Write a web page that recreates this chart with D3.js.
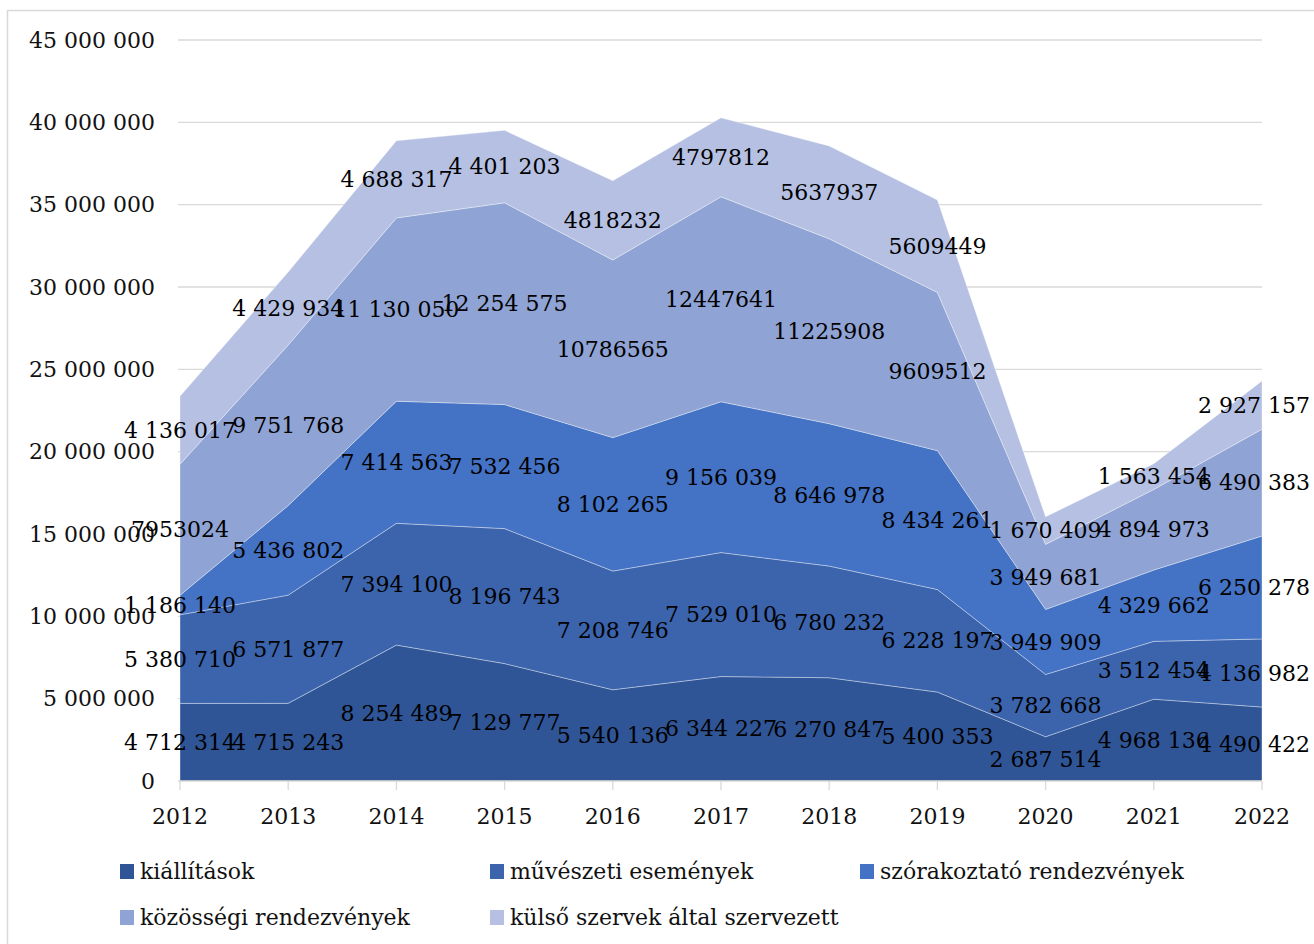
<!DOCTYPE html>
<html><head><meta charset="utf-8">
<script src="https://cdn.jsdelivr.net/npm/d3@7"></script>
<style>
html,body{margin:0;padding:0;background:#fff;}
svg{display:block;font-family:"DejaVu Serif",serif;}
</style></head>
<body>
<svg id="c" width="1314" height="944"></svg>
<script>
const years = [2012,2013,2014,2015,2016,2017,2018,2019,2020,2021,2022];
const seriesNames = ["kiállítások","művészeti események","szórakoztató rendezvények","közösségi rendezvények","külső szervek által szervezett"];
const kiallitasok = [4712314,4715243,8254489,7129777,5540136,6344227,6270847,5400353,2687514,4968136,4490422];
const muveszeti   = [5380710,6571877,7394100,8196743,7208746,7529010,6780232,6228197,3782668,3512454,4136982];
const szorakoztato= [1186140,5436802,7414563,7532456,8102265,9156039,8646978,8434261,3949909,4329662,6250278];
const kozossegi   = [7953024,9751768,11130050,12254575,10786565,12447641,11225908,9609512,3949681,4894973,6490383];
const kulso       = [4136017,4429934,4688317,4401203,4818232,4797812,5637937,5609449,1670409,1563454,2927157];
// which labels are shown without thousand separators in the original (series index -> year indices)
const plainLabels = {3:[0,4,5,6,7], 4:[4,5,6,7]};
const yTicks = [0,5000000,10000000,15000000,20000000,25000000,30000000,35000000,40000000,45000000];
const colors = ["#2f5597","#3b64ad","#4472c4","#8fa3d4","#b5c0e3"];

const allSeries = [kiallitasok,muveszeti,szorakoztato,kozossegi,kulso];
const table = years.map((y,i)=>{const o={year:y}; seriesNames.forEach((n,k)=>o[n]=allSeries[k][i]); return o;});
const stack = d3.stack().keys(seriesNames)(table);

const svg = d3.select("#c");
svg.append("rect").attr("x",7.5).attr("y",10.5).attr("width",1330).attr("height",960)
  .attr("fill","none").attr("stroke","#d9d9d9").attr("stroke-width",1.5);

const x = d3.scalePoint().domain(years).range([180,1262]);
const y = d3.scaleLinear().domain([0,45000000]).range([781,40]);
const fmt = v => d3.format(",")(v).replace(/,/g," ");

// grid
svg.append("g").selectAll("line").data(yTicks.slice(1)).join("line")
  .attr("x1",178).attr("x2",1262).attr("y1",d=>y(d)).attr("y2",d=>y(d))
  .attr("stroke","#d9d9d9").attr("stroke-width",1.3);

// areas
const area = d3.area().x(d=>x(d.data.year)).y0(d=>y(d[0])).y1(d=>y(d[1]));
svg.append("g").selectAll("path").data(stack).join("path")
  .attr("d",area).attr("fill",(d,i)=>colors[i])
  .attr("stroke","rgba(255,255,255,0.35)").attr("stroke-width",1);

// x axis
const xa = svg.append("g").attr("transform","translate(0,781)");
xa.append("line").attr("x1",178).attr("x2",1262).attr("stroke","#d9d9d9").attr("stroke-width",1.3);
xa.selectAll("line.t").data(years).join("line").attr("class","t")
  .attr("x1",d=>x(d)).attr("x2",d=>x(d)).attr("y1",0).attr("y2",9)
  .attr("stroke","#d9d9d9").attr("stroke-width",1.3);
xa.selectAll("text").data(years).join("text")
  .attr("x",d=>x(d)).attr("y",43).attr("text-anchor","middle")
  .attr("font-size",22).attr("fill","#111").text(d=>d);

// y axis labels
svg.append("g").selectAll("text").data(yTicks).join("text")
  .attr("x",155).attr("y",d=>y(d)).attr("dy","0.35em").attr("text-anchor","end")
  .attr("font-size",22).attr("fill","#111").text(d=>fmt(d));

// data labels
const lab = svg.append("g");
stack.forEach((s,k)=>{
  s.forEach((d,i)=>{
    const v = d[1]-d[0];
    const plain = (plainLabels[k]||[]).includes(i);
    const t = lab.append("text")
      .attr("x",x(d.data.year)).attr("y",y((d[0]+d[1])/2)).attr("dy","0.35em")
      .attr("text-anchor","middle").attr("font-size",22).attr("fill","#000")
      .text(plain? String(v) : fmt(v));
    const w = t.node().getComputedTextLength();
    const cx = x(d.data.year);
    if (cx + w/2 > 1310) t.attr("x", 1310 - w/2);
  });
});

// legend
const legendItems = [
  {n:seriesNames[0],c:colors[0],x:120,y:871},
  {n:seriesNames[1],c:colors[1],x:490,y:871},
  {n:seriesNames[2],c:colors[2],x:860,y:871},
  {n:seriesNames[3],c:colors[3],x:120,y:917},
  {n:seriesNames[4],c:colors[4],x:490,y:917}
];
const lg = svg.append("g").selectAll("g").data(legendItems).join("g")
  .attr("transform",d=>`translate(${d.x},${d.y})`);
lg.append("rect").attr("x",0).attr("y",-7).attr("width",14).attr("height",15).attr("fill",d=>d.c);
lg.append("text").attr("x",20).attr("y",0).attr("dy","0.35em").attr("font-size",22).attr("fill","#111").text(d=>d.n);
</script>
</body></html>
